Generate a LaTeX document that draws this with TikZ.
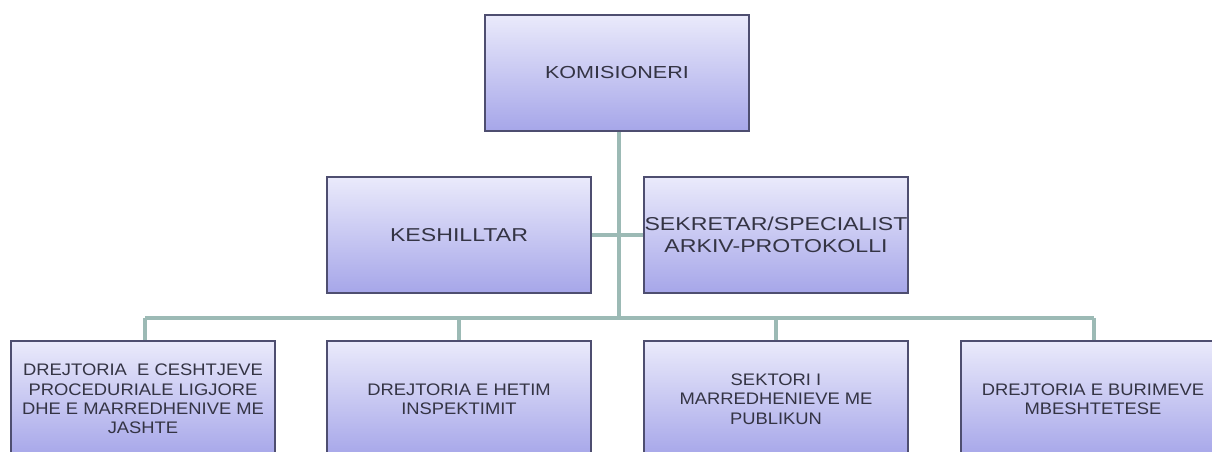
\documentclass[tikz,border=0pt]{standalone}
\usepackage{fontspec}
\setmainfont{Liberation Sans}
\newfontfamily\wideA[FakeStretch=1.24]{Liberation Sans}
\newfontfamily\wideB[FakeStretch=1.1]{Liberation Sans}
\usetikzlibrary{shadows}
\definecolor{boxtop}{RGB}{234,234,251}
\definecolor{boxbot}{RGB}{166,166,233}
\definecolor{boxline}{RGB}{78,78,112}
\definecolor{conn}{RGB}{156,186,181}
\definecolor{txt}{RGB}{52,52,68}
\tikzset{
  orgbox/.style={draw=boxline, line width=0.6pt, top color=boxtop, bottom color=boxbot,
    minimum width=2.64cm, minimum height=1.16cm, inner sep=0pt, align=center,
    text=txt, drop shadow={opacity=0.25, shadow xshift=0.4pt, shadow yshift=-0.4pt}},
  topfont/.style={font=\wideA\fontsize{4.95}{6.2}\selectfont},
  midfont/.style={font=\wideA\fontsize{5.3}{6.26}\selectfont},
  lowfont/.style={font=\wideB\fontsize{4.75}{5.49}\selectfont},
  link/.style={draw=conn, line width=1.0pt}
}
\begin{document}
\begin{tikzpicture}[x=0.01cm, y=-0.01cm]
\useasboundingbox (0,0) rectangle (1212,452);
\clip (0,0) rectangle (1212,452);
\fill[white] (0,0) rectangle (1212,452);

\coordinate (bus) at (619,318);
\coordinate (busL) at (145,318);
\coordinate (busR) at (1094,318);

\node[orgbox, topfont] (kom) at (617,73) {KOMISIONERI};
\node[orgbox, midfont] (kes) at (459,235) {KESHILLTAR};
\node[orgbox, midfont] (sek) at (776,235) {SEKRETAR/SPECIALIST\\ARKIV-PROTOKOLLI};

\node[orgbox, lowfont] (d1) at (143,399) {DREJTORIA\ \ E CESHTJEVE\\PROCEDURIALE\ LIGJORE\\DHE E MARREDHENIVE\ ME\\JASHTE};
\node[orgbox, lowfont] (d2) at (459,399) {DREJTORIA E HETIM\\INSPEKTIMIT};
\node[orgbox, lowfont] (d3) at (776,399) {SEKTORI I\\MARREDHENIEVE ME\\PUBLIKUN};
\node[orgbox, lowfont] (d4) at (1093,399) {DREJTORIA E BURIMEVE\\MBESHTETESE};

\path[link] (kom.south -| bus) -- (bus);
\path[link] (kes.east) -- (sek.west);
\path[link] (busL) -- (busR);
\path[link] (busL) -- (d1.north -| busL);
\path[link] (bus -| d2.north) -- (d2.north);
\path[link] (bus -| d3.north) -- (d3.north);
\path[link] (busR) -- (d4.north -| busR);
\end{tikzpicture}
\end{document}
